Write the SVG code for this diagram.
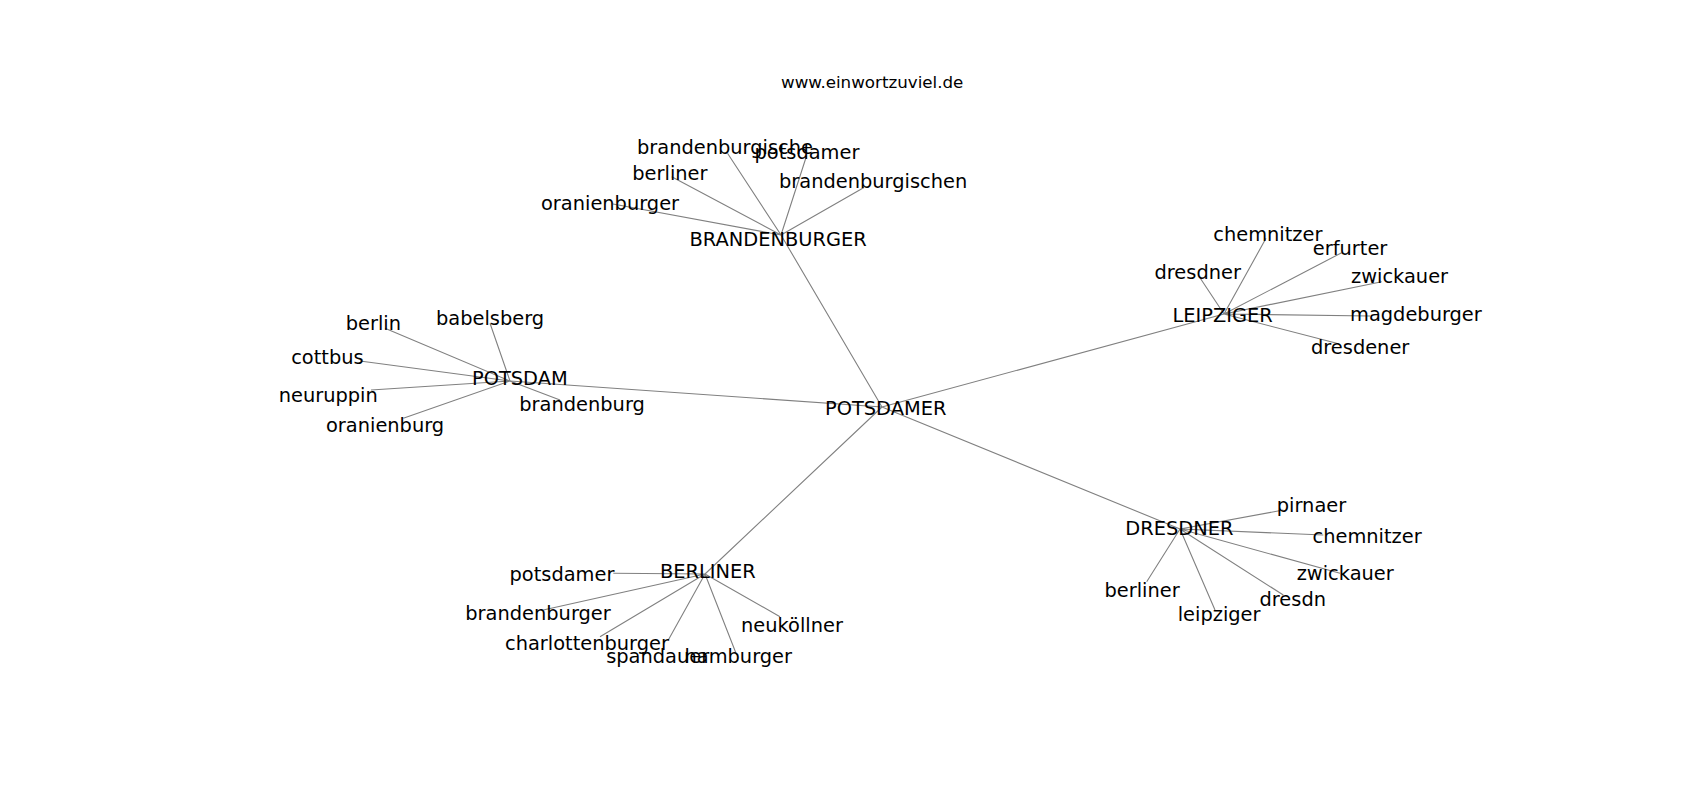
<svg xmlns="http://www.w3.org/2000/svg" width="1700" height="800" viewBox="0 0 1700 800">
<style>
.e{stroke:#808080;stroke-width:1.1;fill:none}
text{font-family:"DejaVu Sans",sans-serif;font-size:19.4px;fill:#000}
.t{font-size:16.7px}
</style>
<rect width="1700" height="800" fill="#fff"/>
<text class="t" x="781" y="88">www.einwortzuviel.de</text>
<g id="connectors">
<path class="e" d="M882 407L781 235M882 407L510 381M882 407L1224 314M882 407L1180 529M882 407L705 574"/>
<path class="e" d="M781 235L727.5 153.3M781 235L806.5 156M781 235L671.7 176.7M781 235L864 187.5M781 235L613 204"/>
<path class="e" d="M510 381L385 328.3M510 381L490 323.3M510 381L360 361M510 381L371 390M510 381L560 400M510 381L403.3 418.3"/>
<path class="e" d="M1224 314L1266 238.3M1224 314L1341.7 252.7M1224 314L1199.3 276.7M1224 314L1381.7 281.7M1224 314L1370 316M1224 314L1336.7 343.3"/>
<path class="e" d="M1180 529L1283.3 510M1180 529L1323.3 535M1180 529L1340 573.3M1180 529L1146.7 581.7M1180 529L1283.3 595M1180 529L1215 610"/>
<path class="e" d="M705 574L613.3 573.3M705 574L543.3 610M705 574L780 616.7M705 574L600 636.7M705 574L668.3 640M705 574L736.7 655"/>
</g>
<g id="n-potsdamer"><text x="825" y="414.5">POTSDAMER</text></g>
<g id="n-brandenburger"><text x="689.5" y="245.5">BRANDENBURGER</text></g>
<g id="n-brandenburger-brandenburgische"><text x="637" y="153.5">brandenburgische</text></g>
<g id="n-brandenburger-potsdamer"><text x="754.5" y="159">potsdamer</text></g>
<g id="n-brandenburger-berliner"><text x="632.3" y="180">berliner</text></g>
<g id="n-brandenburger-brandenburgischen"><text x="779" y="188">brandenburgischen</text></g>
<g id="n-brandenburger-oranienburger"><text x="541" y="209.5">oranienburger</text></g>
<g id="n-potsdam"><text x="472" y="384.5">POTSDAM</text></g>
<g id="n-potsdam-berlin"><text x="345.7" y="329.5">berlin</text></g>
<g id="n-potsdam-babelsberg"><text x="436" y="325">babelsberg</text></g>
<g id="n-potsdam-cottbus"><text x="291.2" y="363.5">cottbus</text></g>
<g id="n-potsdam-neuruppin"><text x="278.7" y="402">neuruppin</text></g>
<g id="n-potsdam-brandenburg"><text x="519.3" y="410.5">brandenburg</text></g>
<g id="n-potsdam-oranienburg"><text x="326" y="432">oranienburg</text></g>
<g id="n-leipziger"><text x="1172.5" y="322">LEIPZIGER</text></g>
<g id="n-leipziger-chemnitzer"><text x="1213.3" y="240.5">chemnitzer</text></g>
<g id="n-leipziger-erfurter"><text x="1312.8" y="254.5">erfurter</text></g>
<g id="n-leipziger-dresdner"><text x="1154.5" y="278.7">dresdner</text></g>
<g id="n-leipziger-zwickauer"><text x="1351" y="283">zwickauer</text></g>
<g id="n-leipziger-magdeburger"><text x="1350" y="320.5">magdeburger</text></g>
<g id="n-leipziger-dresdener"><text x="1311" y="353.5">dresdener</text></g>
<g id="n-dresdner"><text x="1125.3" y="534.5">DRESDNER</text></g>
<g id="n-dresdner-pirnaer"><text x="1276.8" y="511.7">pirnaer</text></g>
<g id="n-dresdner-chemnitzer"><text x="1312.5" y="543.2">chemnitzer</text></g>
<g id="n-dresdner-zwickauer"><text x="1296.7" y="579.5">zwickauer</text></g>
<g id="n-dresdner-berliner"><text x="1104.5" y="597.2">berliner</text></g>
<g id="n-dresdner-dresdn"><text x="1259.5" y="605.5">dresdn</text></g>
<g id="n-dresdner-leipziger"><text x="1177.7" y="620.5">leipziger</text></g>
<g id="n-berliner"><text x="660" y="577.5">BERLINER</text></g>
<g id="n-berliner-potsdamer"><text x="509.5" y="580.5">potsdamer</text></g>
<g id="n-berliner-brandenburger"><text x="465.3" y="619.5">brandenburger</text></g>
<g id="n-berliner-neukoellner"><text x="741" y="631.5">neuköllner</text></g>
<g id="n-berliner-charlottenburger"><text x="505" y="650">charlottenburger</text></g>
<g id="n-berliner-spandauer"><text x="606.2" y="662.8">spandauer</text></g>
<g id="n-berliner-hamburger"><text x="684.5" y="663">hamburger</text></g>
</svg>
